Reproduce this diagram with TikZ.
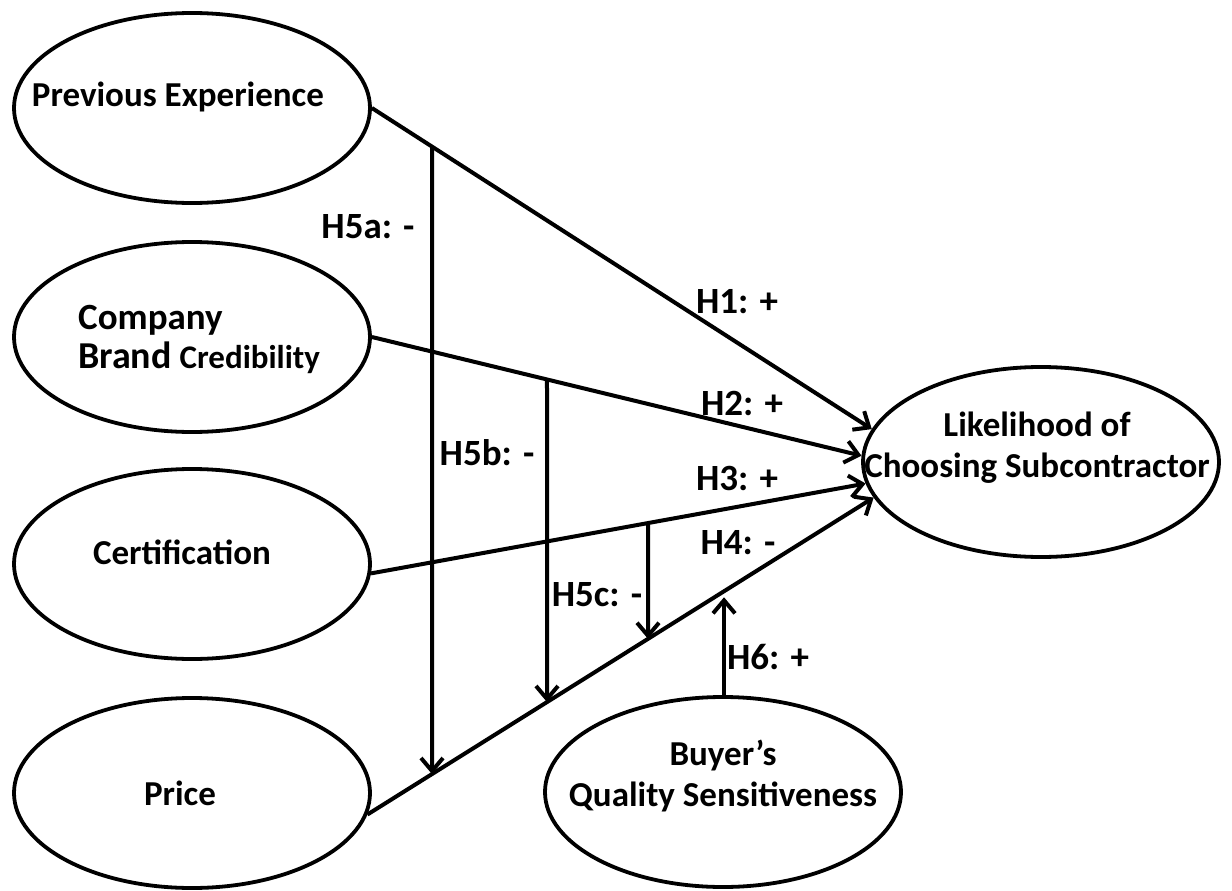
\documentclass[tikz,border=0pt]{standalone}
\usepackage{fontspec}
\setmainfont{Carlito}
\usetikzlibrary{shapes.geometric,arrows.meta,intersections}
\begin{document}
\begin{tikzpicture}[x=1pt,y=-1pt,
  construct/.style={draw,ellipse,line width=3.8pt,minimum width=356pt,minimum height=190pt,inner sep=0pt},
  txt/.style={font=\bfseries\fontsize{35}{41}\selectfont,align=center,inner sep=0pt},
  lab/.style={font=\bfseries\fontsize{37}{40}\selectfont,inner sep=0pt},
  conn/.style={line width=4pt,-{Straight Barb[length=13pt,width=22pt]}},
  plainline/.style={line width=4pt}]
\useasboundingbox (0,0) rectangle (1232,891);
\node[construct] (PE) at (192,108) {};
\node[construct] (CB) at (192,337) {};
\node[construct] (CE) at (192,564) {};
\node[construct] (PR) at (192,793) {};
\node[construct] (LC) at (1041,462) {};
\node[construct] (BQ) at (723,792) {};
\node[txt] (tPE) at (178,97) {Previous Experience};
\node[txt,align=left,anchor=west] (tCB) at (78,339) {{\fontsize{37}{41}\selectfont Company}\\[-2pt]{\fontsize{38}{41}\selectfont Brand} {\fontsize{33}{41}\selectfont Credibility}};
\node[txt] (tCE) at (182,552) {Certification};
\node[txt] (tPR) at (180,793) {Price};
\node[txt] (tLC) at (1037,448) {Likelihood of\\Choosing Subcontractor};
\node[txt] (tBQ) at (723,776) {Buyer’s\\Quality Sensitiveness};
% main paths
\draw[conn,name path=L1] (PE.east) -- (LC.169);
\draw[conn,name path=L2] (CB.east) -- (LC.178);
\draw[conn,name path=L3] (CE.-3) -- (LC.187);
\draw[conn,name path=L4] (PR.-7) -- (LC.192);
% vertical guides
\path[name path=V1] (432,0) -- (432,891);
\path[name path=V2] (547,0) -- (547,891);
\path[name path=V3] (648,0) -- (648,891);
\path[name path=V4] (724,0) -- (724,891);
\path[name intersections={of=L1 and V1,by=a1}];
\path[name intersections={of=L4 and V1,by=a2}];
\path[name intersections={of=L2 and V2,by=b1}];
\path[name intersections={of=L4 and V2,by=b2}];
\path[name intersections={of=L3 and V3,by=c1}];
\path[name intersections={of=L4 and V3,by=c2}];
\path[name intersections={of=L4 and V4,by=d2}];
\draw[conn] (a1) -- (a2);
\draw[conn] (b1) -- (b2);
\draw[conn] (c1) -- (c2);
\draw[conn,shorten >=6pt] (BQ.north -| d2) -- (d2);
% labels
\node[lab] (l5a) at (368,227) {H5a: -};
\node[lab] (l1) at (737,302) {H1: +};
\node[lab] (l2) at (742,403) {H2: +};
\node[lab] (l5b) at (487,453) {H5b: -};
\node[lab] (l3) at (737,478) {H3: +};
\node[lab] (l4) at (738,543) {H4: -};
\node[lab] (l5c) at (597,595) {H5c: -};
\node[lab] (l6) at (768,657) {H6: +};
\end{tikzpicture}
\end{document}
